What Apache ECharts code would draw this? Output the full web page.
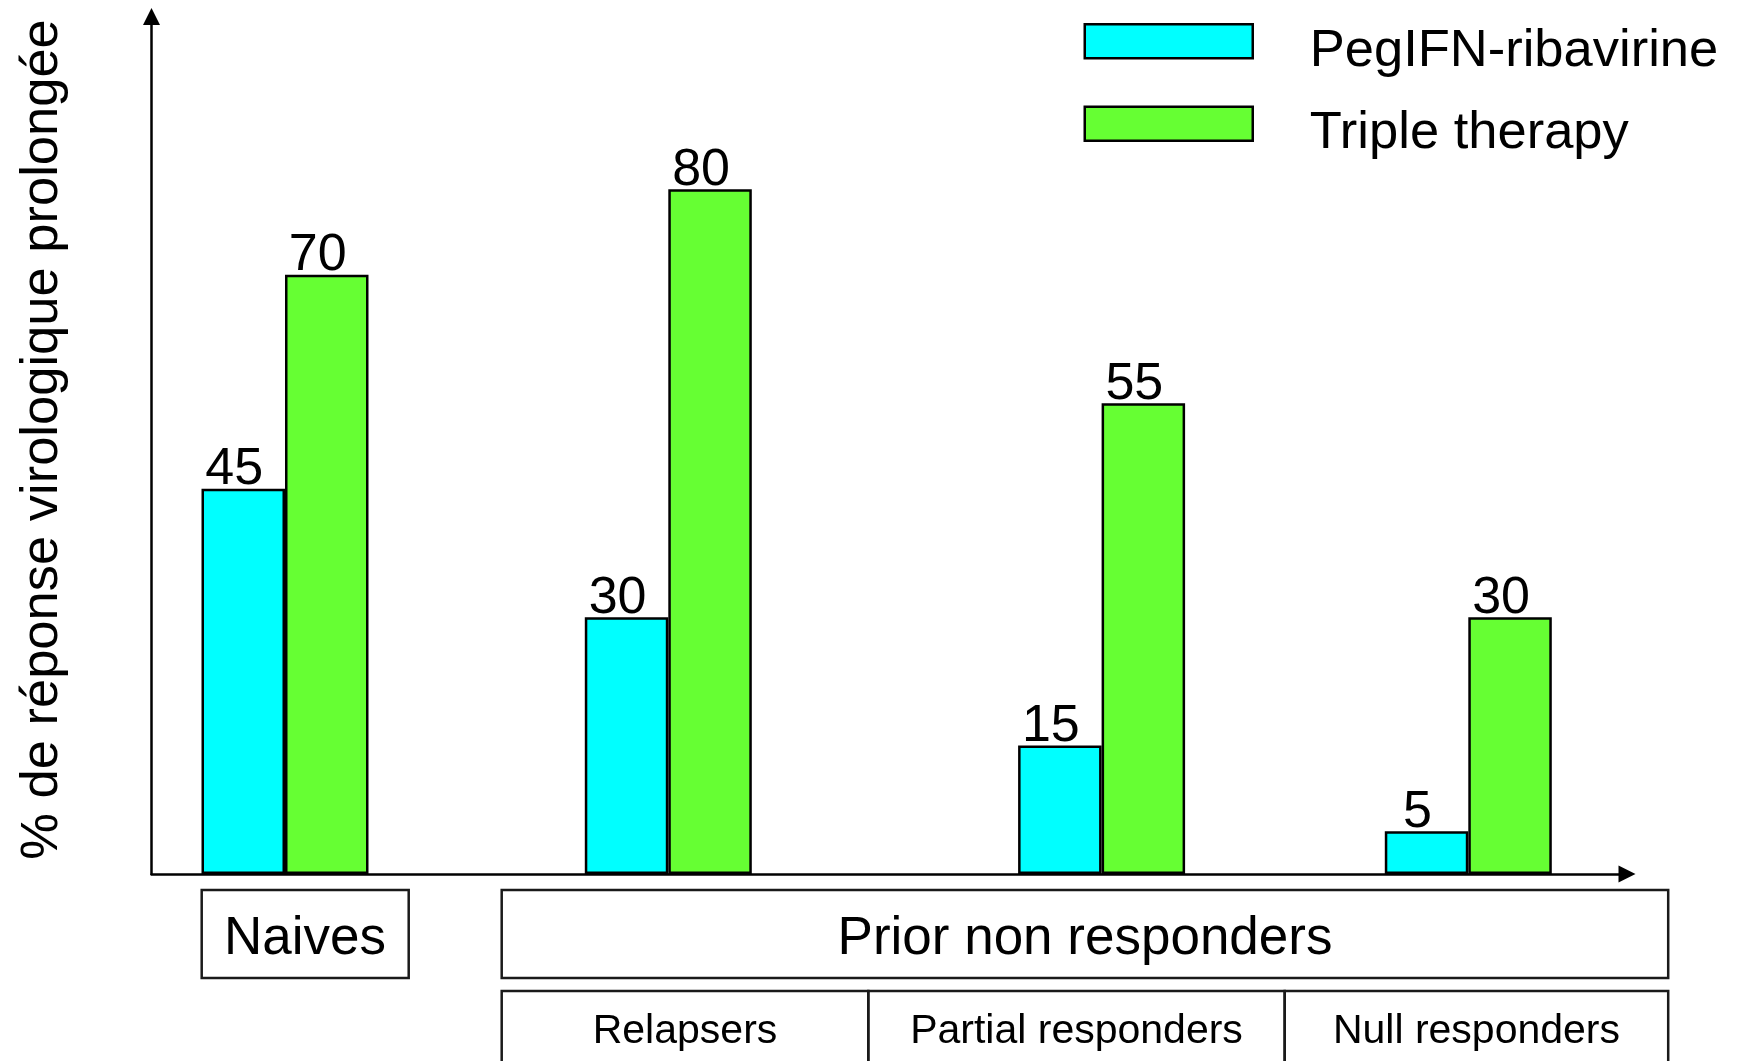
<!DOCTYPE html>
<html>
<head>
<meta charset="utf-8">
<title>Réponse virologique prolongée</title>
<script src="https://cdn.jsdelivr.net/npm/echarts@6/dist/echarts.min.js"></script>
<style>
  html, body { margin: 0; padding: 0; background: #ffffff; }
  #chart { width: 1738px; height: 1061px; }
</style>
</head>
<body>
<div id="chart"></div>
<script>
// Patient groups along the x axis
const groups = ['Naives', 'Relapsers', 'Partial responders', 'Null responders'];
// Sustained virological response (%) per treatment
const pegIfnRibavirine = [45, 30, 15, 5];
const tripleTherapy = [70, 80, 55, 30];
const seriesNames = ['PegIFN-ribavirine', 'Triple therapy'];
const subGroups = ['Relapsers', 'Partial responders', 'Null responders'];
const yMax = 100;

const FONT = 'Liberation Sans, Arial, sans-serif';
const CYAN = '#00FFFF';
const GREEN = '#66FF33';
const INK = '#000000';

// plot frame geometry (pixels)
const plotTop = 18;
const plotBottom = 187;
const axisLeft = 151.5;
const axisRight = 112.5;
// centre of each group of two bars, and bar width
const groupCentres = [285, 668.3, 1101.6, 1468.3];
const barW = 83.5;

const arrowLine = {
  show: true, onZero: false,
  symbol: ['none', 'triangle'], symbolSize: [17, 17], symbolOffset: [0, 1.5],
  lineStyle: { color: INK, width: 2.5 }
};

const grids = [{ left: axisLeft, right: axisRight, top: plotTop, bottom: plotBottom }];
const xAxes = [{
  gridIndex: 0, type: 'value', min: 0, max: 1,
  axisLine: arrowLine,
  axisTick: { show: false }, axisLabel: { show: false }, splitLine: { show: false }
}];
const yAxes = [{
  gridIndex: 0, type: 'value', min: 0, max: yMax,
  name: '% de réponse virologique prolongée',
  nameLocation: 'middle', nameRotate: 90, nameGap: 82,
  nameTextStyle: { fontFamily: FONT, fontSize: 52.5, color: INK, padding: [0, 0, 0, 13] },
  axisLine: arrowLine,
  axisTick: { show: false }, axisLabel: { show: false }, splitLine: { show: false }
}];
const series = [];

const labelStyle = {
  show: true, position: 'top', distance: -7, offset: [-9, 0],
  fontFamily: FONT, fontSize: 52, color: INK
};

groups.forEach(function (g, i) {
  const gi = i + 1;
  grids.push({ left: groupCentres[i] - 100, width: 200, top: plotTop, bottom: plotBottom });
  xAxes.push({ gridIndex: gi, type: 'category', data: [g], show: false });
  yAxes.push({ gridIndex: gi, type: 'value', min: 0, max: yMax, show: false });
  [pegIfnRibavirine, tripleTherapy].forEach(function (vals, s) {
    series.push({
      name: seriesNames[s],
      type: 'bar',
      xAxisIndex: gi, yAxisIndex: gi,
      data: [vals[i]],
      barWidth: barW, barGap: '0%',
      itemStyle: { color: s === 0 ? CYAN : GREEN, borderColor: INK, borderWidth: 2.5 },
      label: labelStyle,
      emphasis: { disabled: true },
      animation: false
    });
  });
});

// group boxes under the x axis
const boxStroke = { fill: 'none', stroke: '#1a1a1a', lineWidth: 2.5 };
const bigText = { font: '53px ' + FONT, fill: INK, align: 'center', verticalAlign: 'middle' };
const smallText = { font: '41px ' + FONT, fill: INK, align: 'center', verticalAlign: 'middle' };
const subEdges = [501.7, 868.3, 1284.7, 1668.2];
const graphics = [
  { type: 'rect', shape: { x: 201.7, y: 890, width: 207, height: 88 }, style: boxStroke },
  { type: 'text', x: 305, y: 939.5, style: Object.assign({ text: groups[0] }, bigText) },
  { type: 'rect', shape: { x: 501.7, y: 890, width: 1166.5, height: 88 }, style: boxStroke },
  { type: 'text', x: 1085, y: 939.5, style: Object.assign({ text: 'Prior non responders' }, bigText) }
];
subGroups.forEach(function (name, k) {
  const x0 = subEdges[k], x1 = subEdges[k + 1];
  graphics.push({ type: 'rect', shape: { x: x0, y: 991, width: x1 - x0, height: 90 }, style: boxStroke });
  graphics.push({ type: 'text', x: (x0 + x1) / 2, y: 1032, style: Object.assign({ text: name }, smallText) });
});

const chart = echarts.init(document.getElementById('chart'), null, { renderer: 'canvas' });
chart.setOption({
  backgroundColor: '#ffffff',
  animation: false,
  legend: {
    data: seriesNames,
    orient: 'vertical',
    left: 1083.5, top: 4.8, padding: 0,
    itemWidth: 168, itemHeight: 34, itemGap: 9.5,
    icon: 'rect',
    selectedMode: false,
    itemStyle: { borderColor: INK, borderWidth: 2.5 },
    // a leading blank line drops the name slightly below the swatch centre
    formatter: function (name) { return '\n' + name; },
    textStyle: { fontFamily: FONT, fontSize: 52.5, color: INK, lineHeight: 20, padding: [0, 0, 0, 52] }
  },
  grid: grids,
  xAxis: xAxes,
  yAxis: yAxes,
  series: series,
  graphic: graphics
});
</script>
</body>
</html>
